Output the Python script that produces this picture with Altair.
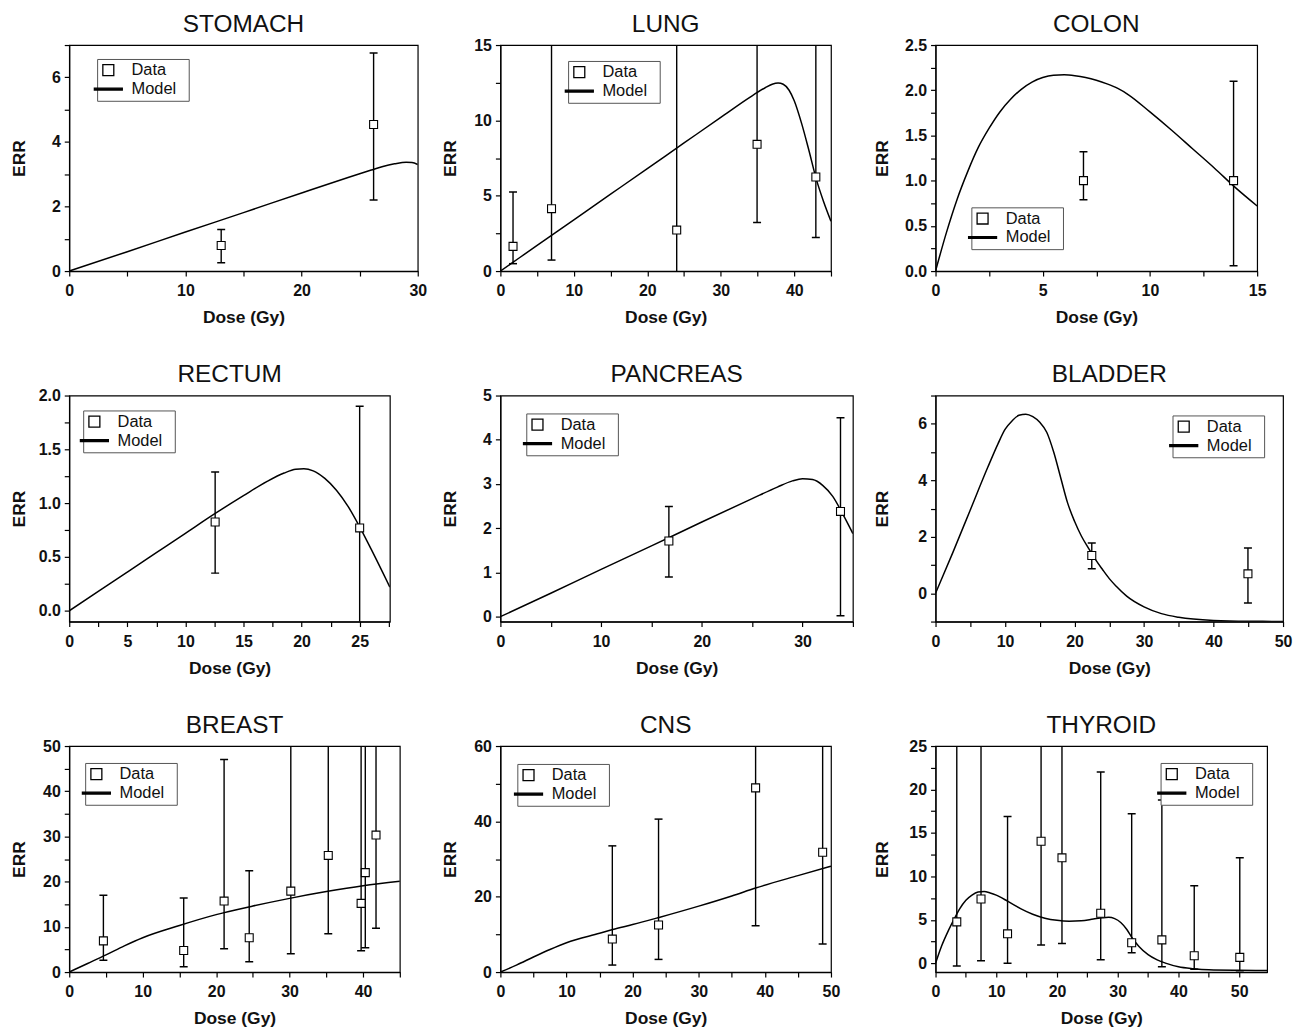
import altair as alt
import pandas as pd

FONT = "Liberation Sans"

# ---------------- data ----------------
# STOMACH
stomach_dose = [13.08, 26.2]
stomach_err = [0.79, 4.54]
stomach_lo = [0.26, 2.2]
stomach_hi = [1.29, 6.75]
stomach_mdose = [0, 5, 10, 15, 20, 24, 26, 27, 28, 29, 29.5, 30]
stomach_merr = [0, 0.6, 1.21, 1.81, 2.42, 2.9, 3.13, 3.24, 3.32, 3.37, 3.36, 3.3]

# LUNG
lung_dose = [1.72, 6.96, 24.0, 34.94, 42.94]
lung_err = [1.64, 4.14, 2.72, 8.41, 6.24]
lung_lo = [0.49, 0.73, -0.2, 3.23, 2.23]
lung_hi = [5.24, 20, 20, 20, 20]
lung_mdose = [0, 5, 10, 15, 20, 25, 30, 34, 36, 37, 37.8, 38.5, 39.3, 40, 41, 42, 43, 44, 45]
lung_merr = [0, 1.7, 3.4, 5.1, 6.8, 8.5, 10.2, 11.55, 12.15, 12.4, 12.48, 12.4, 12.0, 11.3, 9.8, 8.0, 6.1, 4.6, 3.3]

# COLON
colon_dose = [6.9, 13.9]
colon_err = [1.0, 1.0]
colon_lo = [0.79, 0.06]
colon_hi = [1.32, 2.1]
colon_mdose = [0, 0.5, 1.0, 1.5, 2.0, 2.5, 3.0, 3.5, 4.0, 4.5, 5.0, 5.5, 6.0, 6.5, 7.0,
               7.5, 8.0, 8.5, 9.0, 10, 11, 12, 13, 14, 15]
colon_merr = [0, 0.42, 0.79, 1.1, 1.37, 1.58, 1.76, 1.9, 2.01, 2.09, 2.14, 2.165, 2.17,
              2.16, 2.14, 2.11, 2.07, 2.02, 1.95, 1.76, 1.56, 1.35, 1.14, 0.92, 0.72]

# RECTUM
rectum_dose = [12.56, 25.0]
rectum_err = [0.825, 0.77]
rectum_lo = [0.35, -0.3]
rectum_hi = [1.29, 1.90]
rectum_mdose = [0, 2.5, 5, 7.5, 10, 12.5, 15, 17, 18.5, 19.5, 20.2, 21, 22, 23, 24, 25, 26, 27.6]
rectum_merr = [0, 0.18, 0.36, 0.54, 0.72, 0.9, 1.07, 1.2, 1.28, 1.315, 1.32, 1.3, 1.23, 1.12, 0.97, 0.78, 0.57, 0.22]

# PANCREAS
pancreas_dose = [16.73, 33.77]
pancreas_err = [1.71, 2.38]
pancreas_lo = [0.9, 0.02]
pancreas_hi = [2.49, 4.5]
pancreas_mdose = [0, 5, 10, 15, 20, 25, 27.5, 29, 30, 31, 32, 33, 34, 35]
pancreas_merr = [0, 0.53, 1.07, 1.6, 2.14, 2.67, 2.93, 3.07, 3.12, 3.1, 2.97, 2.72, 2.32, 1.88]

# BLADDER
bladder_dose = [22.48, 44.95]
bladder_err = [1.34, 0.69]
bladder_lo = [0.87, -0.34]
bladder_hi = [1.78, 1.6]
bladder_mdose = [0, 2.5, 5, 7.5, 9, 10, 11, 12, 13, 14, 15, 16, 17, 18, 19, 20, 21, 22,
                 23, 24, 25, 26, 27.5, 30, 32.5, 35, 40, 45, 50]
bladder_merr = [0, 1.45, 2.95, 4.45, 5.3, 5.8, 6.1, 6.3, 6.34, 6.25, 6.05, 5.7, 5.0, 4.1, 3.2,
                2.55, 2.02, 1.6, 1.2, 0.85, 0.52, 0.25, -0.1, -0.48, -0.72, -0.85, -0.96, -0.99, -0.995]

# BREAST
breast_dose = [4.65, 15.58, 21.08, 24.5, 30.16, 35.26, 39.73, 40.3, 41.76]
breast_err = [6.9, 4.77, 15.7, 7.6, 17.9, 25.8, 15.2, 22.0, 30.3]
breast_lo = [2.6, 1.17, 5.14, 2.28, 4.04, 8.5, 4.7, 5.36, 9.7]
breast_hi = [17.0, 16.4, 47.0, 22.4, 60, 60, 60, 60, 60]
breast_mdose = [0, 2.5, 5, 7.5, 10, 15, 20, 25, 30, 35, 40, 45]
breast_merr = [0, 1.9, 3.8, 5.8, 7.6, 10.3, 12.7, 14.6, 16.3, 17.8, 19.1, 20.1]

# CNS
cns_dose = [16.93, 23.92, 38.6, 48.74]
cns_err = [8.76, 12.5, 48.9, 31.8]
cns_lo = [1.86, 3.36, 12.3, 7.43]
cns_hi = [33.5, 40.6, 70, 70]
cns_mdose = [0, 2.5, 5, 7.5, 10, 15, 17, 20, 24, 30, 35, 38.6, 45, 50]
cns_merr = [0, 1.9, 4.0, 6.0, 7.8, 10.3, 11.3, 12.6, 14.5, 17.5, 20.2, 22.3, 25.6, 28.1]

# THYROID
thyroid_dose = [3.5, 7.49, 11.86, 17.38, 20.82, 27.2, 32.3, 37.27, 42.6, 50.1]
thyroid_err = [4.77, 7.4, 3.4, 14.05, 12.14, 5.76, 2.37, 2.7, 0.88, 0.69]
thyroid_lo = [-0.3, 0.3, 0.0, 2.1, 2.29, 0.42, 1.22, -0.38, -0.69, -0.84]
thyroid_hi = [30, 30, 16.9, 30, 30, 22.0, 17.2, 18.8, 8.93, 12.14]
thyroid_mdose = [0, 1, 2, 3, 4, 5, 6, 7, 8, 9, 10, 12, 14, 16, 18, 20, 22, 24, 26, 27.5,
                 28.5, 29.5, 30.5, 31.5, 32.5, 33.5, 35, 36.5, 38, 40, 42.5, 45, 50, 54.6]
thyroid_merr = [0, 2.0, 3.6, 5.0, 6.3, 7.25, 7.85, 8.2, 8.27, 8.1, 7.85, 7.1, 6.3, 5.65, 5.2,
                4.95, 4.85, 4.9, 5.1, 5.25, 5.3, 5.15, 4.7, 3.9, 2.8, 1.95, 1.0, 0.4, 0.0,
                -0.4, -0.62, -0.74, -0.8, -0.82]

# axis tick positions (major ticks are labelled, the others are unlabelled minor ticks)
stomach_xticks = [0, 5, 10, 15, 20, 25, 30]
stomach_yticks = [0, 1, 2, 3, 4, 5, 6, 7]
lung_xticks = [0, 5, 10, 15, 20, 25, 30, 35, 40, 45]
lung_yticks = [0, 2.5, 5, 7.5, 10, 12.5, 15]
colon_xticks = [0, 2.5, 5, 7.5, 10, 12.5, 15]
colon_yticks = [0, 0.25, 0.5, 0.75, 1.0, 1.25, 1.5, 1.75, 2.0, 2.25, 2.5]
rectum_xticks = [0, 2.5, 5, 7.5, 10, 12.5, 15, 17.5, 20, 22.5, 25, 27.5]
rectum_yticks = [0, 0.25, 0.5, 0.75, 1.0, 1.25, 1.5, 1.75, 2.0]
pancreas_xticks = [0, 5, 10, 15, 20, 25, 30, 35]
pancreas_yticks = [0, 0.5, 1, 1.5, 2, 2.5, 3, 3.5, 4, 4.5, 5]
bladder_xticks = [0, 5, 10, 15, 20, 25, 30, 35, 40, 45, 50]
bladder_yticks = [-1, 0, 1, 2, 3, 4, 5, 6, 7]
breast_xticks = [0, 5, 10, 15, 20, 25, 30, 35, 40, 45]
breast_yticks = [0, 5, 10, 15, 20, 25, 30, 35, 40, 45, 50]
cns_xticks = [0, 5, 10, 15, 20, 25, 30, 35, 40, 45, 50]
cns_yticks = [0, 10, 20, 30, 40, 50, 60]
thyroid_xticks = [0, 5, 10, 15, 20, 25, 30, 35, 40, 45, 50]
thyroid_yticks = [0, 2.5, 5, 7.5, 10, 12.5, 15, 17.5, 20, 22.5, 25]

# legend entries (trailing no-break spaces + zero-width space only widen the box)
LEGEND_ENTRIES = ["Data", "Model\u00a0\u00a0\u200b"]
LINE_SYMBOL = "M-2.55,-0.17L2.55,-0.17L2.55,0.17L-2.55,0.17Z"


def label_expr(step):
    return (f"abs(datum.value/{step} - round(datum.value/{step})) < 0.001 "
            f"? datum.label : ''")


def panel(title, dose, err, lo, hi, mdose, merr, xdom, ydom, xticks, xmaj,
          yticks, ymaj, yfmt, width, lx, ly, yext):
    pts = pd.DataFrame({"dose": dose, "err": err, "lo": lo, "hi": hi,
                        "type": [LEGEND_ENTRIES[0]] * len(dose)})
    mdl = pd.DataFrame({"dose": mdose, "err": merr})
    xs = alt.Scale(domain=xdom, nice=False, zero=False)
    ys = alt.Scale(domain=ydom, nice=False, zero=False)
    xaxis = alt.Axis(values=xticks, tickCount=60, labelExpr=label_expr(xmaj),
                     format="d", title="Dose (Gy)", labelFlush=False,
                     labelOverlap=False, labelPadding=7, titlePadding=10,
                     minExtent=28, maxExtent=28)
    yaxis = alt.Axis(values=yticks, tickCount=60, labelExpr=label_expr(ymaj),
                     format=yfmt, title="ERR", labelOverlap=False,
                     labelPadding=4, titlePadding=8, minExtent=yext,
                     maxExtent=yext)
    leg = alt.Legend(orient="none", legendX=lx, legendY=ly, title=None,
                     symbolSize=121, symbolStrokeColor="black",
                     symbolStrokeWidth=1.3, labelOffset=15, padding=3,
                     rowPadding=2, strokeColor="#555", fillColor="white",
                     labelFont=FONT, labelFontSize=16.5, labelColor="#111")
    line = alt.Chart(mdl).mark_line(color="black", strokeWidth=1.5,
                                    interpolate="monotone", clip=True).encode(
        x=alt.X("dose:Q", scale=xs, axis=xaxis),
        y=alt.Y("err:Q", scale=ys, axis=yaxis),
    )
    bars = alt.Chart(pts).mark_rule(color="black", strokeWidth=1.4, clip=True).encode(
        x="dose:Q", y="lo:Q", y2="hi:Q")
    cap_lo = alt.Chart(pts).mark_tick(orient="horizontal", size=8, thickness=1.5,
                                      color="black", clip=True, opacity=1).encode(
        x="dose:Q", y="lo:Q")
    cap_hi = alt.Chart(pts).mark_tick(orient="horizontal", size=8, thickness=1.5,
                                      color="black", clip=True, opacity=1).encode(
        x="dose:Q", y="hi:Q")
    points = alt.Chart(pts).mark_point(size=64, strokeWidth=1.1, opacity=1).encode(
        x="dose:Q",
        y="err:Q",
        shape=alt.Shape("type:N", scale=alt.Scale(domain=LEGEND_ENTRIES,
                                                 range=["square", LINE_SYMBOL]),
                        legend=leg),
        fill=alt.Fill("type:N", scale=alt.Scale(domain=LEGEND_ENTRIES,
                                               range=["white", "black"]),
                      legend=leg),
        stroke=alt.Stroke("type:N", scale=alt.Scale(domain=LEGEND_ENTRIES,
                                                   range=["black", "black"]),
                          legend=leg),
    )
    return alt.layer(line, bars, cap_lo, cap_hi, points).properties(
        width=width, height=227,
        title=alt.TitleParams(title, font=FONT, fontSize=24.5, fontWeight="normal",
                              color="#111", offset=0, anchor="middle",
                              frame="group"),
    )


panels = [
    panel("STOMACH", stomach_dose, stomach_err, stomach_lo, stomach_hi,
          stomach_mdose, stomach_merr, [0, 30], [0, 7], stomach_xticks, 10,
          stomach_yticks, 2, "d", 350, 28, 14, 32.5),
    panel("LUNG", lung_dose, lung_err, lung_lo, lung_hi, lung_mdose, lung_merr,
          [0, 45], [0, 15], lung_xticks, 10, lung_yticks, 5, "d", 332, 68, 16, 33),
    panel("COLON", colon_dose, colon_err, colon_lo, colon_hi, colon_mdose, colon_merr,
          [0, 15], [0, 2.5], colon_xticks, 5, colon_yticks, 0.5, ".1f", 323, 36, 163, 36.5),
    panel("RECTUM", rectum_dose, rectum_err, rectum_lo, rectum_hi, rectum_mdose,
          rectum_merr, [0, 27.6], [-0.1, 2.0], rectum_xticks, 5, rectum_yticks, 0.5,
          ".1f", 322, 14, 15, 32.5),
    panel("PANCREAS", pancreas_dose, pancreas_err, pancreas_lo, pancreas_hi,
          pancreas_mdose, pancreas_merr, [0, 35], [-0.11, 5], pancreas_xticks, 10,
          pancreas_yticks, 1, "d", 354, 26, 18, 33),
    panel("BLADDER", bladder_dose, bladder_err, bladder_lo, bladder_hi,
          bladder_mdose, bladder_merr, [0, 50], [-1, 7], bladder_xticks, 10,
          bladder_yticks, 2, "d", 349, 238, 20, 36.5),
    panel("BREAST", breast_dose, breast_err, breast_lo, breast_hi, breast_mdose,
          breast_merr, [0, 45], [0, 50], breast_xticks, 10, breast_yticks, 10, "d",
          332, 16, 17, 32.5),
    panel("CNS", cns_dose, cns_err, cns_lo, cns_hi, cns_mdose, cns_merr,
          [0, 50], [0, 60], cns_xticks, 10, cns_yticks, 20, "d", 332, 17, 18, 33),
    panel("THYROID", thyroid_dose, thyroid_err, thyroid_lo, thyroid_hi,
          thyroid_mdose, thyroid_merr, [0, 54.6], [-1, 25], thyroid_xticks, 10,
          thyroid_yticks, 5, "d", 333, 226, 17, 36.5),
]

chart = alt.concat(*panels, columns=3, spacing={"row": 125, "column": 83},
                   bounds="flush", align="each").resolve_scale(
    shape="independent", fill="independent", stroke="independent"
).properties(
    padding={"left": 1.5, "top": 0, "right": 0, "bottom": 0},
    background="white",
).configure_view(
    stroke="black", strokeWidth=1.2
).configure_axis(
    grid=False, domainColor="black", domainWidth=1.2, tickColor="black",
    tickWidth=1.2, tickSize=5, labelFont=FONT, labelFontSize=16,
    labelFontWeight="bold", labelColor="#111", titleFont=FONT, titleFontSize=17.5,
    titleFontWeight="bold", titleColor="#111",
)

chart.save("out.html", embed_options={"renderer": "svg", "actions": False})
